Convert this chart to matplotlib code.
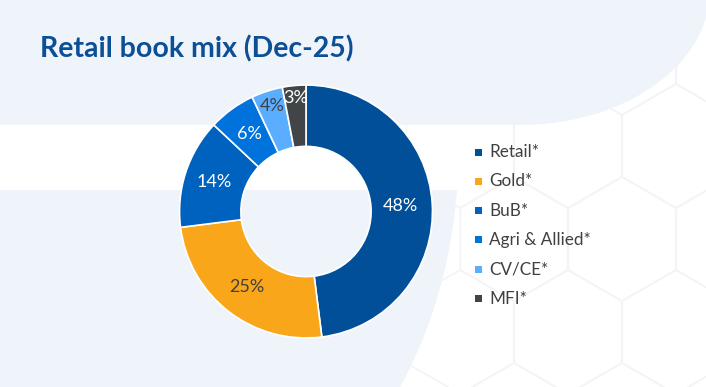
import numpy as np
import matplotlib
matplotlib.use("Agg")
import matplotlib.pyplot as plt
from matplotlib.patches import Polygon, Rectangle, RegularPolygon

plt.rcParams['font.family'] = ['Lato', 'DejaVu Sans']

# DATA
categories = ["Retail*", "Gold*", "BuB*", "Agri & Allied*", "CV/CE*", "MFI*"]
shares = [48, 25, 14, 6, 4, 3]
colors = ["#004F98", "#F9A61A", "#0062BF", "#0072DC", "#5BAEFF", "#414548"]
label_colors = ["white", "#404040", "white", "white", "#404040", "white"]
label_radius = [0.75, 0.76, 0.76, 0.76, 0.875, 0.905]

W, H = 706, 387
BG = "#EFF3FA"

fig = plt.figure(figsize=(W / 100, H / 100), dpi=100)
fig.patch.set_facecolor("white")

# background layer, pixel coords
bg = fig.add_axes([0, 0, 1, 1])
bg.set_xlim(0, W)
bg.set_ylim(H, 0)
bg.axis("off")

# very faint hexagon pattern
for hx in np.arange(460, 760, 108):
    for j, hy in enumerate(np.arange(-40, 440, 93)):
        off = 54 if j % 2 else 0
        bg.add_patch(RegularPolygon((hx + off, hy), 6, radius=62,
                                    fill=False, ec="#F4F4F6", lw=1.2, zorder=1))

# top band with rounded right end
t = np.linspace(0, np.pi / 2, 60)
ex = 520 + 190 * np.sin(t)
ey = -10 + 135 * np.cos(t)
pts = [(0, 0), (709, 0)] + list(zip(ex[::-1], ey[::-1])) + [(520, 125), (0, 125)]
bg.add_patch(Polygon(pts, closed=True, fc=BG, ec="none", zorder=2))

# lower left panel
s = np.linspace(0, 1, 40)
lx = (1 - s) ** 2 * 457 + 2 * (1 - s) * s * 448 + s ** 2 * 400
ly = (1 - s) ** 2 * 190 + 2 * (1 - s) * s * 300 + s ** 2 * 387
pts2 = [(0, 190)] + list(zip(lx, ly)) + [(0, 387)]
bg.add_patch(Polygon(pts2, closed=True, fc=BG, ec="none", zorder=2))

# title
bg.text(40, 57, "Retail book mix (Dec-25)", fontsize=20.5, fontweight="bold",
        color="#0B4F96", ha="left", va="baseline", zorder=5)

# donut
cx, cy, r = 306, 211.5, 129
ax = fig.add_axes([(cx - r) / W, (H - cy - r) / H, 2 * r / W, 2 * r / H])
ax.set_facecolor("none")
wedges, _ = ax.pie(shares, colors=colors, startangle=90, counterclock=False,
                   radius=1, wedgeprops=dict(width=0.485, edgecolor="white", linewidth=1.2))
ax.set_xlim(-1.02, 1.02)
ax.set_ylim(-1.02, 1.02)
ax.axis("off")

for w, v, c, rr in zip(wedges, shares, label_colors, label_radius):
    ang = np.deg2rad((w.theta1 + w.theta2) / 2)
    ax.text(rr * np.cos(ang), rr * np.sin(ang), f"{v}%", ha="center", va="center",
            fontsize=13, color=c)

# legend
for i, (name, col) in enumerate(zip(categories, colors)):
    y = 152 + i * 29.3
    bg.add_patch(Rectangle((475, y - 3.5), 7, 7, fc=col, ec="none", zorder=5))
    bg.text(489, y, name, fontsize=12.3, color="#404040", ha="left", va="center", zorder=5)

fig.savefig("out.png", dpi=100)
